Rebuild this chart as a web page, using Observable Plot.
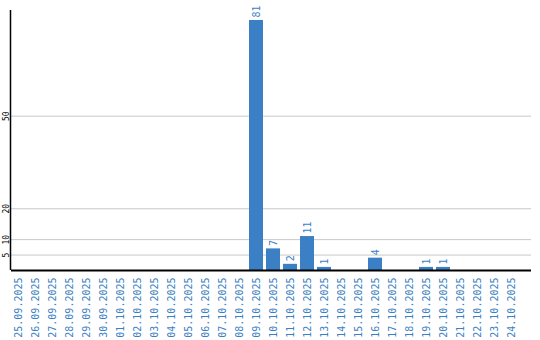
<!DOCTYPE html>
<html>
<head>
<meta charset="utf-8">
<script src="https://cdn.jsdelivr.net/npm/d3@7"></script>
<script src="https://cdn.jsdelivr.net/npm/@observablehq/plot@0.6"></script>
<style>
  html, body { margin: 0; padding: 0; background: #fff; }
</style>
</head>
<body>
<div id="chart"></div>
<script>
const dates = [
  "25.09.2025","26.09.2025","27.09.2025","28.09.2025","29.09.2025","30.09.2025",
  "01.10.2025","02.10.2025","03.10.2025","04.10.2025","05.10.2025","06.10.2025",
  "07.10.2025","08.10.2025","09.10.2025","10.10.2025","11.10.2025","12.10.2025",
  "13.10.2025","14.10.2025","15.10.2025","16.10.2025","17.10.2025","18.10.2025",
  "19.10.2025","20.10.2025","21.10.2025","22.10.2025","23.10.2025","24.10.2025"
];
const counts = [
  0,0,0,0,0,0,
  0,0,0,0,0,0,
  0,0,81,7,2,11,
  1,0,0,4,0,0,
  1,1,0,0,0,0
];
const yTicks = [5, 10, 20, 50];

const blue = "#3b7fc4";
const data = dates.map((d, i) => ({date: d, value: counts[i]}));
const labeled = data.filter(d => d.value > 0);

const yAxisLine = (index, scales, values, dims) => {
  const g = d3.create("svg:line")
    .attr("x1", dims.marginLeft - 0.5)
    .attr("x2", dims.marginLeft - 0.5)
    .attr("y1", dims.marginTop)
    .attr("y2", dims.height - dims.marginBottom)
    .attr("stroke", "#000")
    .attr("stroke-width", 1.5);
  return g.node();
};

const chart = Plot.plot({
  width: 540,
  height: 340,
  marginTop: 10,
  marginBottom: 70,
  marginLeft: 11,
  marginRight: 9,
  style: {fontFamily: "'DejaVu Sans Mono', monospace", fontSize: "10px", background: "#fff"},
  x: {domain: dates, range: [10, 519], paddingInner: 0.18, paddingOuter: 0, axis: null},
  y: {domain: [0, 84.24], axis: null},
  marks: [
    Plot.ruleY(yTicks, {stroke: "#c8c8c8", strokeWidth: 1}),
    Plot.barY(data, {x: "date", y: "value", fill: blue}),
    Plot.text(labeled, {x: "date", y: "value", text: d => String(d.value), rotate: -90, textAnchor: "start", lineAnchor: "middle", dy: -3, fill: blue, fontSize: 10}),
    Plot.text(yTicks, {y: d => d, text: d => String(d), frameAnchor: "left", dx: -5, rotate: -90, textAnchor: "middle", lineAnchor: "middle", fill: "#000", fontSize: 8}),
    Plot.axisX({tickRotate: -90, tickSize: 0, tickPadding: 7, fill: blue, fontSize: 10, label: null}),
    Plot.ruleY([0], {stroke: "#000", strokeWidth: 2}),
    yAxisLine
  ]
});
document.getElementById("chart").appendChild(chart);
</script>
</body>
</html>
